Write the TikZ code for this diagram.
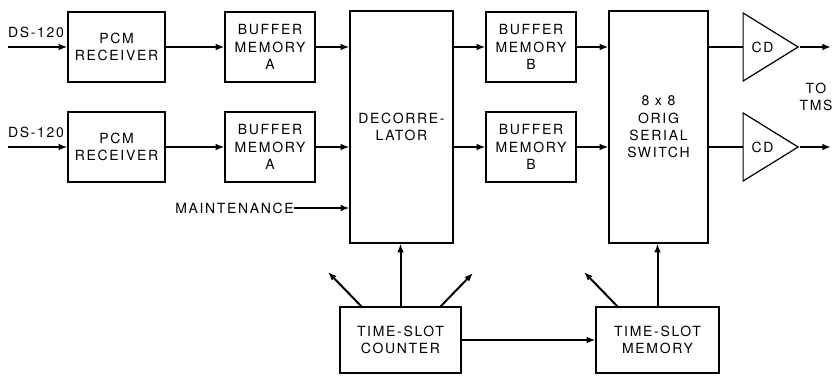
\documentclass[tikz,border=0pt]{standalone}
\usepackage{fontspec}
\newfontfamily\diafont[LetterSpace=12]{TeX Gyre Heros}
\usetikzlibrary{arrows.meta,positioning,calc,shapes.geometric}

\begin{document}
\begin{tikzpicture}[x=0.75pt, y=-0.75pt,
  txt/.style={font={\diafont\fontsize{10.5}{13}\selectfont}, align=center, inner sep=0pt},
  box/.style 2 args={txt, draw, line width=0.9pt, minimum width={#1*0.75pt}, minimum height={#2*0.75pt}},
  cd/.style={txt, draw, line width=0.9pt, isosceles triangle, isosceles triangle stretches, shape border rotate=0, minimum width={68*0.75pt}, minimum height={55*0.75pt}},
  ar/.style={-{Latex[length=6.5pt,width=5pt]}, line width=1.5pt},
  ln/.style={line width=1.5pt}]
\useasboundingbox (0,0) rectangle (832,375);
% input side
\node[box={97}{70}] (rx1) at (116.5,47) {PCM\\RECEIVER};
\node[box={97}{70}] (rx2) at (116.5,147) {PCM\\RECEIVER};
\node[box={90}{70}] (bfa1) at (270,47) {BUFFER\\MEMORY\\A};
\node[box={90}{70}] (bfa2) at (270,147) {BUFFER\\MEMORY\\A};
\node[box={103}{232}] (dec) at (401.5,127) {DECORRE-\\LATOR};
\node[box={90}{70}] (bfb1) at (531,47) {BUFFER\\MEMORY\\B};
\node[box={90}{70}] (bfb2) at (531,147) {BUFFER\\MEMORY\\B};
\node[box={99}{232}] (sw) at (658.5,127) {8 x 8\\ORIG\\SERIAL\\SWITCH};
\node[cd] (cd1) at (762.5,47) {CD};
\node[cd] (cd2) at (762.5,147) {CD};
\node[box={121}{66}] (tsc) at (400.5,340) {TIME-SLOT\\COUNTER};
\node[box={123}{66}] (tsm) at (657.5,340) {TIME-SLOT\\MEMORY};
% labels
\node[txt] (ds1) at (36,32) {DS-120};
\node[txt] (ds2) at (36,132) {DS-120};
\node[txt, anchor=east] (mnt) at (294,208) {MAINTENANCE};
\node[txt] (tms) at (816,97) {TO\\TMS};
\coordinate (in1) at (8,47); \coordinate (in2) at (8,147);
\coordinate (out1) at (831,47); \coordinate (out2) at (831,147);
\coordinate (d1) at (328,272); \coordinate (d2) at (473,273); \coordinate (d3) at (584,272);
% connectors
\draw[ar] (in1) -- (rx1); \draw[ar] (in2) -- (rx2);
\draw[ar] (rx1) -- (bfa1); \draw[ar] (rx2) -- (bfa2);
\draw[ar] (bfa1) -- (bfa1 -| dec.west); \draw[ar] (bfa2) -- (bfa2 -| dec.west);
\draw[ar] (bfb1 -| dec.east) -- (bfb1); \draw[ar] (bfb2 -| dec.east) -- (bfb2);
\draw[ar] (bfb1) -- (bfb1 -| sw.west); \draw[ar] (bfb2) -- (bfb2 -| sw.west);
\draw[ln] (cd1.lower side -| sw.east) -- (cd1.lower side); \draw[ln] (cd2.lower side -| sw.east) -- (cd2.lower side);
\draw[ar] (cd1.apex) -- (out1); \draw[ar] (cd2.apex) -- (out2);
\draw[ar] (mnt.east) -- (mnt.east -| dec.west);
\draw[ar] (tsc.north) -- (tsc.north |- dec.south);
\draw[ar] ($(tsc.north west)+(22,0)$) -- (d1);
\draw[ar] ($(tsc.north east)+(-21,0)$) -- (d2);
\draw[ar] (tsc) -- (tsm);
\draw[ar] (tsm.north) -- (tsm.north |- sw.south);
\draw[ar] ($(tsm.north west)+(22,0)$) -- (d3);
\end{tikzpicture}
\end{document}
